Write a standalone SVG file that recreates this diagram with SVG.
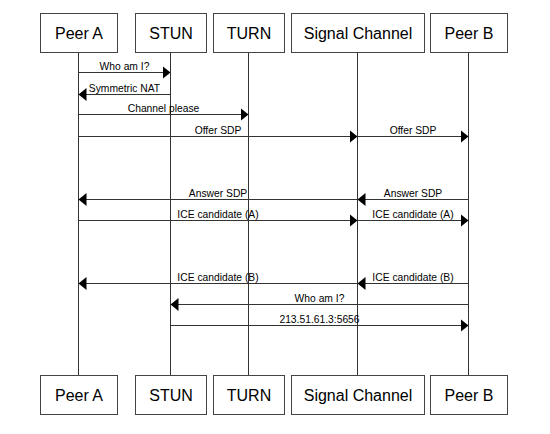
<svg xmlns="http://www.w3.org/2000/svg" width="550" height="434" viewBox="0 0 550 434">
<style>
.box{fill:#fff;stroke:#444;stroke-width:1}
.bt{font-family:"Liberation Sans",Arial,sans-serif;font-size:16px;fill:#000;text-anchor:middle}
.life{stroke:#333;stroke-width:1;fill:none}
.msg{stroke:#333;stroke-width:1;fill:none;marker-end:url(#ah)}
.ml{font-family:"Liberation Sans",Arial,sans-serif;font-size:10.3px;fill:#000;text-anchor:middle}
</style>
<defs>
<marker id="ah" markerUnits="userSpaceOnUse" markerWidth="9" markerHeight="13" refX="8" refY="6.5" orient="auto">
<path d="M0,0 L8,6.5 L0,13 z" fill="#000"/>
</marker>
</defs>
<rect width="550" height="434" fill="#fff"/>
<g id="lifelines">
<line class="life" x1="78.5" y1="52" x2="78.5" y2="375"/>
<line class="life" x1="170.5" y1="52" x2="170.5" y2="375"/>
<line class="life" x1="248.5" y1="52" x2="248.5" y2="375"/>
<line class="life" x1="357.5" y1="52" x2="357.5" y2="375"/>
<line class="life" x1="468.5" y1="52" x2="468.5" y2="375"/>
</g>
<g id="peerA">
<rect class="box" x="40.5" y="13.5" width="77" height="39"/>
<text class="bt" x="79" y="39">Peer A</text>
<rect class="box" x="40.5" y="375.5" width="77" height="39"/>
<text class="bt" x="79" y="401">Peer A</text>
</g>
<g id="stun">
<rect class="box" x="135.5" y="13.5" width="71" height="39"/>
<text class="bt" x="171" y="39">STUN</text>
<rect class="box" x="135.5" y="375.5" width="71" height="39"/>
<text class="bt" x="171" y="401">STUN</text>
</g>
<g id="turn">
<rect class="box" x="213.5" y="13.5" width="71" height="39"/>
<text class="bt" x="249" y="39">TURN</text>
<rect class="box" x="213.5" y="375.5" width="71" height="39"/>
<text class="bt" x="249" y="401">TURN</text>
</g>
<g id="signal">
<rect class="box" x="291.5" y="13.5" width="133" height="39"/>
<text class="bt" x="358" y="39">Signal Channel</text>
<rect class="box" x="291.5" y="375.5" width="133" height="39"/>
<text class="bt" x="358" y="401">Signal Channel</text>
</g>
<g id="peerB">
<rect class="box" x="430.5" y="13.5" width="77" height="39"/>
<text class="bt" x="469" y="39">Peer B</text>
<rect class="box" x="430.5" y="375.5" width="77" height="39"/>
<text class="bt" x="469" y="401">Peer B</text>
</g>
<g id="connectors">
<line class="msg" x1="78.5" y1="72.5" x2="170.5" y2="72.5"/>
<text class="ml" x="124.5" y="69.5">Who am I?</text>
<line class="msg" x1="170.5" y1="94.5" x2="78.5" y2="94.5"/>
<text class="ml" x="124.5" y="91.5">Symmetric NAT</text>
<line class="msg" x1="78.5" y1="114.5" x2="248.5" y2="114.5"/>
<text class="ml" x="163.5" y="111.5">Channel please</text>
<line class="msg" x1="78.5" y1="136.5" x2="357.5" y2="136.5"/>
<text class="ml" x="218" y="133.5">Offer SDP</text>
<line class="msg" x1="357.5" y1="136.5" x2="468.5" y2="136.5"/>
<text class="ml" x="413" y="133.5">Offer SDP</text>
<line class="msg" x1="468.5" y1="199.5" x2="357.5" y2="199.5"/>
<text class="ml" x="413" y="196.5">Answer SDP</text>
<line class="msg" x1="357.5" y1="199.5" x2="78.5" y2="199.5"/>
<text class="ml" x="218" y="196.5">Answer SDP</text>
<line class="msg" x1="78.5" y1="220.5" x2="357.5" y2="220.5"/>
<text class="ml" x="218" y="217.5">ICE candidate (A)</text>
<line class="msg" x1="357.5" y1="220.5" x2="468.5" y2="220.5"/>
<text class="ml" x="413" y="217.5">ICE candidate (A)</text>
<line class="msg" x1="468.5" y1="283.5" x2="357.5" y2="283.5"/>
<text class="ml" x="413" y="280.5">ICE candidate (B)</text>
<line class="msg" x1="357.5" y1="283.5" x2="78.5" y2="283.5"/>
<text class="ml" x="218" y="280.5">ICE candidate (B)</text>
<line class="msg" x1="468.5" y1="304.5" x2="170.5" y2="304.5"/>
<text class="ml" x="319.5" y="301.5">Who am I?</text>
<line class="msg" x1="170.5" y1="325.5" x2="468.5" y2="325.5"/>
<text class="ml" x="319.5" y="322.5">213.51.61.3:5656</text>
</g>
</svg>
